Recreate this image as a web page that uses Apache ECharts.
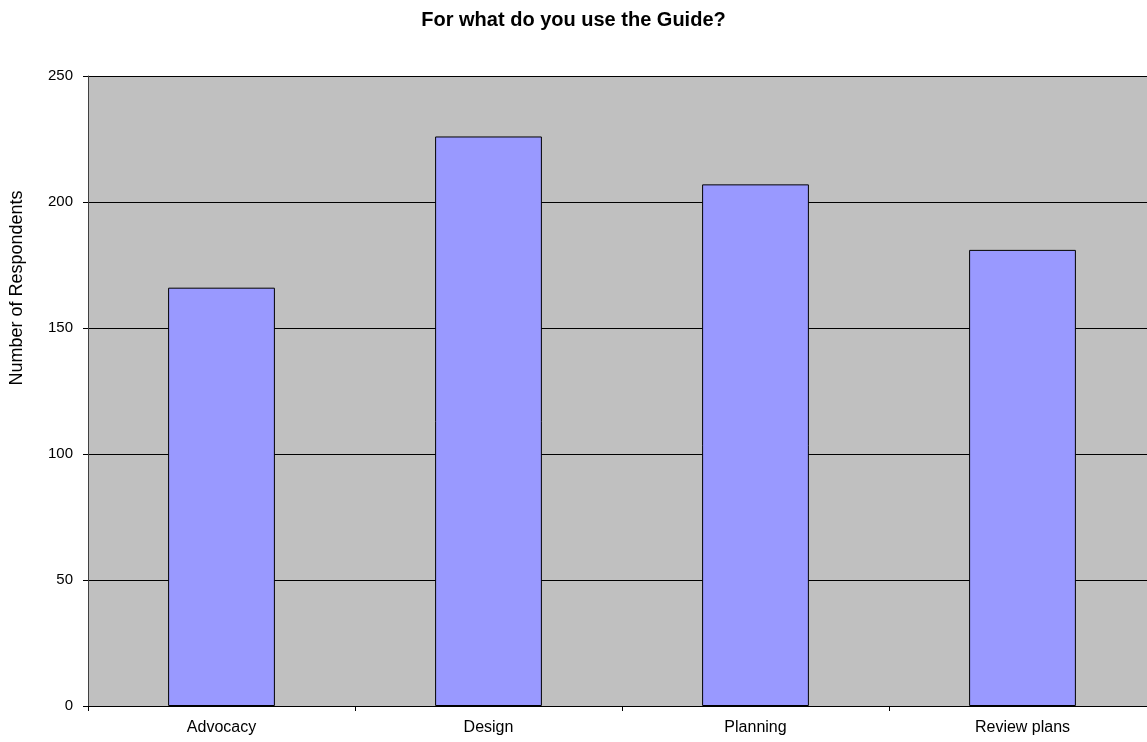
<!DOCTYPE html>
<html>
<head>
<meta charset="utf-8">
<script src="https://cdn.jsdelivr.net/npm/echarts@6/dist/echarts.min.js"></script>
<style>
  html, body { margin: 0; padding: 0; background: #fff; }
  #chart { width: 1147px; height: 742px; }
</style>
</head>
<body>
<div id="chart"></div>
<script>
// Survey: what respondents use the Guide for
const categories = ['Advocacy', 'Design', 'Planning', 'Review plans'];
const respondents = [166, 226, 207, 181];
const yTicks = { min: 0, max: 250, interval: 50 };

const FONT = 'Liberation Sans, Arial, sans-serif';
const chart = echarts.init(document.getElementById('chart'), null, { renderer: 'canvas' });

chart.setOption({
  animation: false,
  backgroundColor: '#ffffff',
  textStyle: { fontFamily: FONT },
  title: {
    text: 'For what do you use the Guide?',
    left: 'center',
    top: 5,
    textStyle: { fontSize: 20, fontWeight: 'bold', color: '#000', fontFamily: FONT }
  },
  // plot area runs past the right edge of the canvas
  grid: {
    left: 88, top: 76, width: 1068, bottom: 36,
    outerBoundsMode: 'none',
    show: true, backgroundColor: '#c0c0c0', borderWidth: 0
  },
  graphic: [{
    type: 'text',
    x: 8, y: 288,
    rotation: Math.PI / 2,
    style: {
      text: 'Number of Respondents',
      fontSize: 18, fontFamily: FONT, fill: '#000',
      align: 'center', verticalAlign: 'top'
    }
  }],
  xAxis: {
    type: 'category',
    data: categories,
    axisLine: { show: true, lineStyle: { color: '#000', width: 1 } },
    axisTick: { show: true, alignWithLabel: false, length: 5, lineStyle: { color: '#000' } },
    axisLabel: { color: '#000', fontSize: 16, margin: 14 },
    splitLine: { show: false }
  },
  yAxis: {
    type: 'value',
    min: yTicks.min, max: yTicks.max, interval: yTicks.interval,
    axisLine: { show: true, lineStyle: { color: '#404040', width: 1 } },
    axisTick: { show: true, length: 5, lineStyle: { color: '#000' } },
    axisLabel: { color: '#000', fontSize: 15, margin: 15 },
    splitLine: { show: true, lineStyle: { color: '#000', width: 1 } }
  },
  series: [{
    type: 'bar',
    data: respondents,
    barWidth: '40%',
    itemStyle: { color: '#9999ff', borderColor: '#000', borderWidth: 1 }
  }]
});
</script>
</body>
</html>
